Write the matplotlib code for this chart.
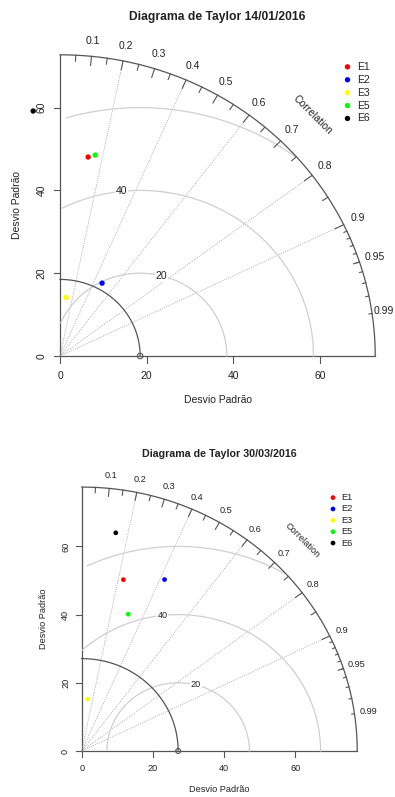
import numpy as np
import matplotlib
matplotlib.use("Agg")
import matplotlib.pyplot as plt

plt.rcParams['font.family'] = ['Liberation Sans', 'DejaVu Sans']

# modelos
models = ['E1', 'E2', 'E3', 'E5', 'E6']
colors = ['#ff0000', '#0000ff', '#ffff00', '#00ff00', '#000000']

# 14/01/2016
ref_sd_jan = 18.5
sd_jan = [48.5, 20.1, 14.2, 49.2, 59.5]
cor_jan = [0.134, 0.483, 0.099, 0.165, -0.104]

# 30/03/2016
ref_sd_mar = 27.1
sd_mar = [51.6, 55.4, 15.3, 42.2, 64.7]
cor_mar = [0.227, 0.420, 0.111, 0.310, 0.148]

sd_ticks = [0, 20, 40, 60]
gamma_levels = [20, 40, 60]
gamma_label_angles = [1.32, 1.68, 2.07]
corr_big = [0.1, 0.2, 0.3, 0.4, 0.5, 0.6, 0.7, 0.8, 0.9]
corr_med = [0.05, 0.15, 0.25, 0.35, 0.45, 0.55, 0.65, 0.75, 0.85, 0.95]
corr_small = [0.91, 0.92, 0.93, 0.94, 0.95, 0.96, 0.97, 0.98, 0.99]
corr_labels = corr_big + [0.95, 0.99]
corr_lines = [0.2, 0.4, 0.6, 0.8, 0.9]

W, H = 395, 797
DARK = '#555555'
TXT = '#222222'


def taylor(fig, title, ref_sd, sds, cors, origin, scale, box, k):
    ox, oy = origin
    sx, sy = scale
    top, bottom = box
    ax = fig.add_axes([0, 1 - bottom / H, 1, (bottom - top) / H])
    ax.set_xlim(-ox / sx, (W - ox) / sx)
    ax.set_ylim((oy - bottom) / sy, (oy - top) / sy)
    ax.axis('off')
    fs = 7.5 * k
    maxsd = 1.5 * max(ref_sd, sds[0])

    # eixos
    ax.plot([0, maxsd], [0, 0], color=DARK, lw=0.9)
    ax.plot([0, 0], [0, maxsd], color=DARK, lw=0.9)
    tl = 6.5 * k
    for t in sd_ticks:
        ax.plot([t, t], [0, -tl / sy], color=DARK, lw=0.8)
        ax.plot([0, -tl / sx], [t, t], color=DARK, lw=0.8)
        ax.text(t, -19.7 * k / sy, str(t), ha='center', va='center', fontsize=fs, color=TXT)
        ax.text(-18.3 * k / sx, t, str(t), ha='center', va='center', fontsize=fs,
                rotation=90, color=TXT)
    ax.text(maxsd / 2, -44 * k / sy, 'Desvio Padrão', ha='center', va='center',
            fontsize=fs, color=TXT)
    ax.text(-43.3 * k / sx, maxsd / 2, 'Desvio Padrão', ha='center', va='center',
            fontsize=fs, rotation=90, color=TXT)
    ax.text(maxsd / 2, maxsd * 1.126, title, ha='center', va='center',
            fontsize=fs * 1.16, fontweight='bold', color=TXT)

    # linhas de correlação
    for c in corr_lines:
        ax.plot([0, maxsd * c], [0, maxsd * np.sqrt(1 - c ** 2)], color='#9a9a9a',
                lw=0.6, ls=(0, (1, 1.5)))

    # arcos de RMS centrado
    ang = np.arange(0, np.pi, 0.03)
    for g, la in zip(gamma_levels, gamma_label_angles):
        xc = np.cos(ang) * g + ref_sd
        yc = np.sin(ang) * g
        keep = (xc >= 0) & (xc ** 2 + yc ** 2 <= maxsd ** 2)
        ax.plot(xc[keep], yc[keep], color='#cfcfcf', lw=0.9)
        lx = np.cos(la) * g + ref_sd
        if lx > 0:
            ax.text(lx, np.sin(la) * g, str(g), ha='center', va='center', fontsize=fs,
                    color=TXT, bbox=dict(facecolor='white', edgecolor='none', pad=0.5))

    # arco externo e do desvio de referência
    q = np.linspace(0, np.pi / 2, 200)
    ax.plot(np.cos(q) * maxsd, np.sin(q) * maxsd, color=DARK, lw=0.9)
    ax.plot(np.cos(q) * ref_sd, np.sin(q) * ref_sd, color=DARK, lw=0.9)
    for vals, frac in ((corr_big, 0.97), (corr_med, 0.98), (corr_small, 0.99)):
        a = np.arccos(vals)
        ax.plot(np.vstack([np.cos(a) * maxsd, np.cos(a) * maxsd * frac]),
                np.vstack([np.sin(a) * maxsd, np.sin(a) * maxsd * frac]),
                color=DARK, lw=0.8)
    xmax_txt = ax.get_xlim()[1] - 11 / sx
    for v in corr_labels:
        a = np.arccos(v)
        ax.text(min(np.cos(a) * 1.05 * maxsd, xmax_txt), np.sin(a) * 1.05 * maxsd, f'{v:g}',
                ha='center', va='center', fontsize=fs, color=TXT, clip_on=False)
    ax.text(maxsd * 0.8, maxsd * 0.8, 'Correlation', ha='center', va='center',
            rotation=-45, fontsize=fs, color=TXT)
    ax.scatter([ref_sd], [0], s=16 * k * k, facecolors='none', edgecolors=DARK,
               linewidths=0.8, zorder=4)

    # modelos
    sds = np.asarray(sds)
    cors = np.asarray(cors)
    ax.scatter(sds * cors, sds * np.sqrt(1 - cors ** 2), s=15 * k * k, c=colors,
               edgecolors='none', zorder=5)

    # legenda
    step = 12.9 * k / sy
    for i, (m, col) in enumerate(zip(models, colors)):
        yy = 0.96 * maxsd - i * step
        ax.scatter([0.912 * maxsd], [yy], s=15 * k * k, c=col, edgecolors='none')
        ax.text(0.912 * maxsd + 9.4 * k / sx, yy, m, ha='left', va='center',
                fontsize=fs, color=TXT)
    return ax


fig = plt.figure(figsize=(W / 100, H / 100), dpi=100)
taylor(fig, 'Diagrama de Taylor 14/01/2016', ref_sd_jan, sd_jan, cor_jan,
       (60, 356), (4.333, 4.14), (0, 420), 1.0)
taylor(fig, 'Diagrama de Taylor 30/03/2016', ref_sd_mar, sd_mar, cor_mar,
       (81.7, 751), (3.56, 3.41), (420, 797), 0.88)
fig.savefig('out.png', dpi=100)
